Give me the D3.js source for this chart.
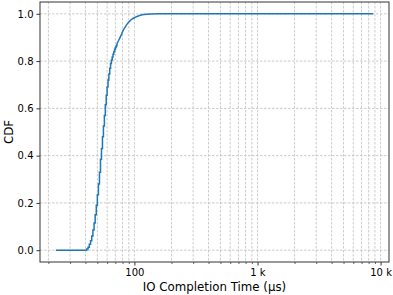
<!DOCTYPE html>
<html>
<head>
<meta charset="utf-8">
<script src="https://cdn.jsdelivr.net/npm/d3@7"></script>
<style>
  body { margin: 0; background: #fff; }
  svg { display: block; font-family: "DejaVu Sans", sans-serif; }
</style>
</head>
<body>
<svg id="chart" width="393" height="295"></svg>
<script>
const width = 393;
const height = 295;
const margin = {top: 2, right: 4, bottom: 33, left: 40};

// IO completion time (µs) and empirical CDF, read off the picture
// integer-µs stair part
const stepTimes = [23, 40, 41, 42, 43, 44, 45, 46, 47, 48, 49, 50, 51, 52, 53, 54, 55, 56, 57, 58, 59, 60, 61, 62, 63, 64, 65, 66, 67, 68, 69, 70, 71, 72];
const stepCdf = [0, 0, 0.005, 0.012, 0.025, 0.04, 0.06, 0.085, 0.115, 0.15, 0.19, 0.235, 0.28, 0.33, 0.385, 0.43, 0.48, 0.525, 0.57, 0.615, 0.655, 0.69, 0.72, 0.745, 0.77, 0.79, 0.805, 0.817, 0.829, 0.84, 0.85, 0.858, 0.865, 0.872];
// smooth tail
const tailTimes = [72, 74, 76, 78, 81, 85, 90, 95, 102, 110, 120, 135, 160, 8700];
const tailCdf = [0.872, 0.885, 0.897, 0.91, 0.93, 0.948, 0.965, 0.977, 0.986, 0.993, 0.997, 0.9995, 1.0, 1.0];

const xTicks = [100, 1000, 10000];
const xTickLabels = ["100", "1 k", "10 k"];
const yTicks = [0, 0.2, 0.4, 0.6, 0.8, 1.0];

const svg = d3.select("#chart");
const innerW = width - margin.left - margin.right;
const innerH = height - margin.top - margin.bottom;

// matplotlib style 5% margins in log space
const lo = Math.log10(23), hi = Math.log10(8700), pad = (hi - lo) * 0.05;
const x = d3.scaleLog().domain([Math.pow(10, lo - pad), Math.pow(10, hi + pad)]).range([margin.left, margin.left + innerW]);
const y = d3.scaleLinear().domain([-0.05, 1.05]).range([margin.top + innerH, margin.top]);

// minor ticks for each decade inside domain
const minor = [];
for (let d = 10; d <= 10000; d *= 10) {
    for (let k = 2; k <= 9; k++) {
        const v = d * k;
        if (v > x.domain()[0] && v < x.domain()[1]) minor.push(v);
    }
}

const grid = svg.append("g").attr("stroke", "#b0b0b0").attr("stroke-width", 0.8)
    .attr("stroke-dasharray", "2.5,1.5").attr("opacity", 0.8);
grid.selectAll(".vx")
    .data(xTicks.concat(minor))
    .join("line")
    .attr("x1", d => x(d)).attr("x2", d => x(d))
    .attr("y1", margin.top).attr("y2", margin.top + innerH);
grid.selectAll(".hy")
    .data(yTicks)
    .join("line")
    .attr("class", "hy")
    .attr("x1", margin.left).attr("x2", margin.left + innerW)
    .attr("y1", d => y(d)).attr("y2", d => y(d));

const line = d3.line().x(d => x(d[0])).y(d => y(d[1]));

svg.append("path")
    .datum(d3.zip(stepTimes, stepCdf))
    .attr("d", line.curve(d3.curveStepAfter))
    .attr("fill", "none")
    .attr("stroke", "#1f77b4")
    .attr("stroke-width", 1.5);

svg.append("path")
    .datum(d3.zip(tailTimes, tailCdf))
    .attr("d", line.curve(d3.curveMonotoneX))
    .attr("fill", "none")
    .attr("stroke", "#1f77b4")
    .attr("stroke-width", 1.5);

// axes
const xAxis = d3.axisBottom(x).tickValues(xTicks).tickFormat((d, i) => xTickLabels[i]).tickSize(3.5).tickPadding(3);
const gx = svg.append("g").attr("transform", `translate(0,${margin.top + innerH})`).call(xAxis);
gx.select(".domain").remove();
gx.selectAll("text").attr("font-size", 10).attr("fill", "#000").attr("font-family", "DejaVu Sans");
gx.selectAll("line").attr("stroke", "#000").attr("stroke-width", 0.8);

const gxm = svg.append("g").attr("transform", `translate(0,${margin.top + innerH})`)
    .call(d3.axisBottom(x).tickValues(minor).tickFormat("").tickSize(2));
gxm.select(".domain").remove();
gxm.selectAll("line").attr("stroke", "#000").attr("stroke-width", 0.6);

const yAxis = d3.axisLeft(y).tickValues(yTicks).tickFormat(d3.format(".1f")).tickSize(3.5).tickPadding(3);
const gy = svg.append("g").attr("transform", `translate(${margin.left},0)`).call(yAxis);
gy.select(".domain").remove();
gy.selectAll("text").attr("font-size", 10).attr("fill", "#000").attr("font-family", "DejaVu Sans");
gy.selectAll("line").attr("stroke", "#000").attr("stroke-width", 0.8);

// frame
svg.append("rect")
    .attr("x", margin.left).attr("y", margin.top)
    .attr("width", innerW).attr("height", innerH)
    .attr("fill", "none").attr("stroke", "#333").attr("stroke-width", 1);

svg.append("text")
    .attr("x", margin.left + innerW / 2).attr("y", 291)
    .attr("text-anchor", "middle").attr("font-size", 11.8)
    .text("IO Completion Time (µs)");

svg.append("text")
    .attr("transform", `translate(13,${margin.top + innerH / 2}) rotate(-90)`)
    .attr("text-anchor", "middle").attr("font-size", 11.8)
    .text("CDF");
</script>
</body>
</html>
